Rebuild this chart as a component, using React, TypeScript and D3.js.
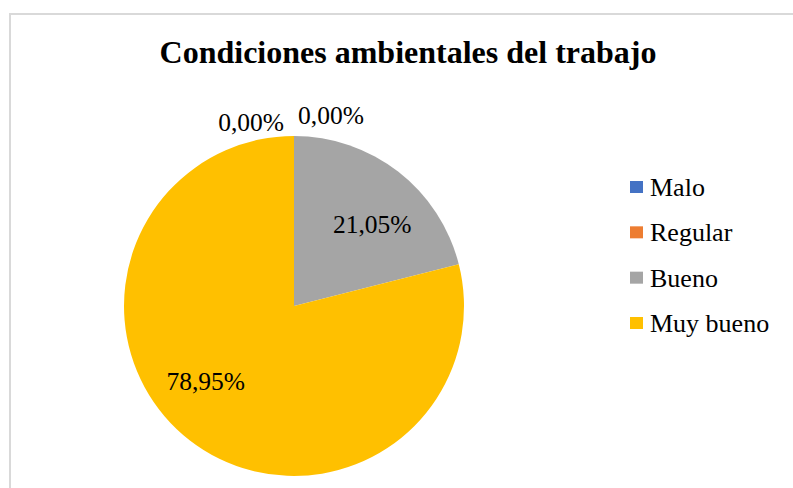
import { useEffect, useRef } from 'react';
import * as d3 from 'd3';

// chart data
const categories = ['Malo', 'Regular', 'Bueno', 'Muy bueno'];
const shares = [0, 0, 21.05, 78.95];
const colours = ['#4472C4', '#ED7D31', '#A5A5A5', '#FFC000'];
const title = 'Condiciones ambientales del trabajo';

type Slice = { name: string; value: number; colour: string };

const W = 793;
const H = 488;

const App = () => {
  const chartRef = useRef<SVGSVGElement | null>(null);

  useEffect(() => {
    const svg = d3.select(chartRef.current);
    svg.selectAll('*').remove();

    const font = "'Times New Roman', 'Liberation Serif', 'DejaVu Serif', serif";
    const data: Slice[] = categories.map((c, i) => ({ name: c, value: shares[i], colour: colours[i] }));

    svg.attr('font-family', font);

    // outer frame (runs past the right and bottom edges)
    svg.append('rect')
      .attr('x', 10).attr('y', 14)
      .attr('width', W).attr('height', H)
      .attr('fill', '#fff')
      .attr('stroke', '#d9d9d9')
      .attr('stroke-width', 2);

    svg.append('text')
      .attr('x', 408).attr('y', 63)
      .attr('text-anchor', 'middle')
      .attr('font-weight', 'bold')
      .attr('font-size', 32)
      .text(title);

    const cx = 294, cy = 306, radius = 170;
    const g = svg.append('g').attr('transform', `translate(${cx},${cy})`);

    const pie = d3.pie<Slice>().sort(null).value(d => d.value);
    const arcs = pie(data);
    const arc = d3.arc<d3.PieArcDatum<Slice>>().innerRadius(0).outerRadius(radius);

    g.selectAll('path.slice')
      .data(arcs)
      .enter()
      .append('path')
      .attr('class', 'slice')
      .attr('d', arc)
      .attr('fill', d => d.data.colour);

    const fmt = (v: number) => v.toFixed(2).replace('.', ',') + '%';

    // labels: zero slices sit outside at the top, the rest near the centroid (Excel "best fit")
    const labelR = radius * 0.75;
    const labelArc = d3.arc<d3.PieArcDatum<Slice>>().innerRadius(labelR).outerRadius(labelR);
    const nudges: Record<string, [number, number]> = { Bueno: [0, 19], 'Muy bueno': [-10, -26] };
    let zeroIdx = 0;
    arcs.forEach(a => {
      const t = g.append('text')
        .attr('font-size', 25.5)
        .attr('fill', '#000')
        .text(fmt(a.data.value));
      if (a.data.value === 0) {
        const px = Math.sin(a.startAngle) * (radius + 10);
        const py = -Math.cos(a.startAngle) * (radius + 10);
        if (zeroIdx === 0) {
          t.attr('x', px - 10).attr('y', py + 5).attr('text-anchor', 'end');
        } else {
          t.attr('x', px + 4).attr('y', py - 2).attr('text-anchor', 'start');
        }
        zeroIdx++;
      } else {
        const [x, y] = labelArc.centroid(a);
        const n = nudges[a.data.name] ?? [0, 0];
        t.attr('x', x + n[0]).attr('y', y + n[1] + 9).attr('text-anchor', 'middle');
      }
    });

    // legend
    const legendY = d3.scalePoint<string>().domain(categories).range([187, 323]);
    const lg = svg.append('g');
    categories.forEach((c, i) => {
      const y = legendY(c) as number;
      lg.append('rect')
        .attr('x', 630).attr('y', y - 6)
        .attr('width', 13).attr('height', 12)
        .attr('fill', colours[i]);
      lg.append('text')
        .attr('x', 650).attr('y', y + 9)
        .attr('font-size', 26)
        .text(c);
    });
  }, []);

  return (
    <svg
      ref={chartRef}
      width={W}
      height={H}
      style={{ position: 'absolute', left: 0, top: 0, background: '#fff' }}
    />
  );
};

export default App;
